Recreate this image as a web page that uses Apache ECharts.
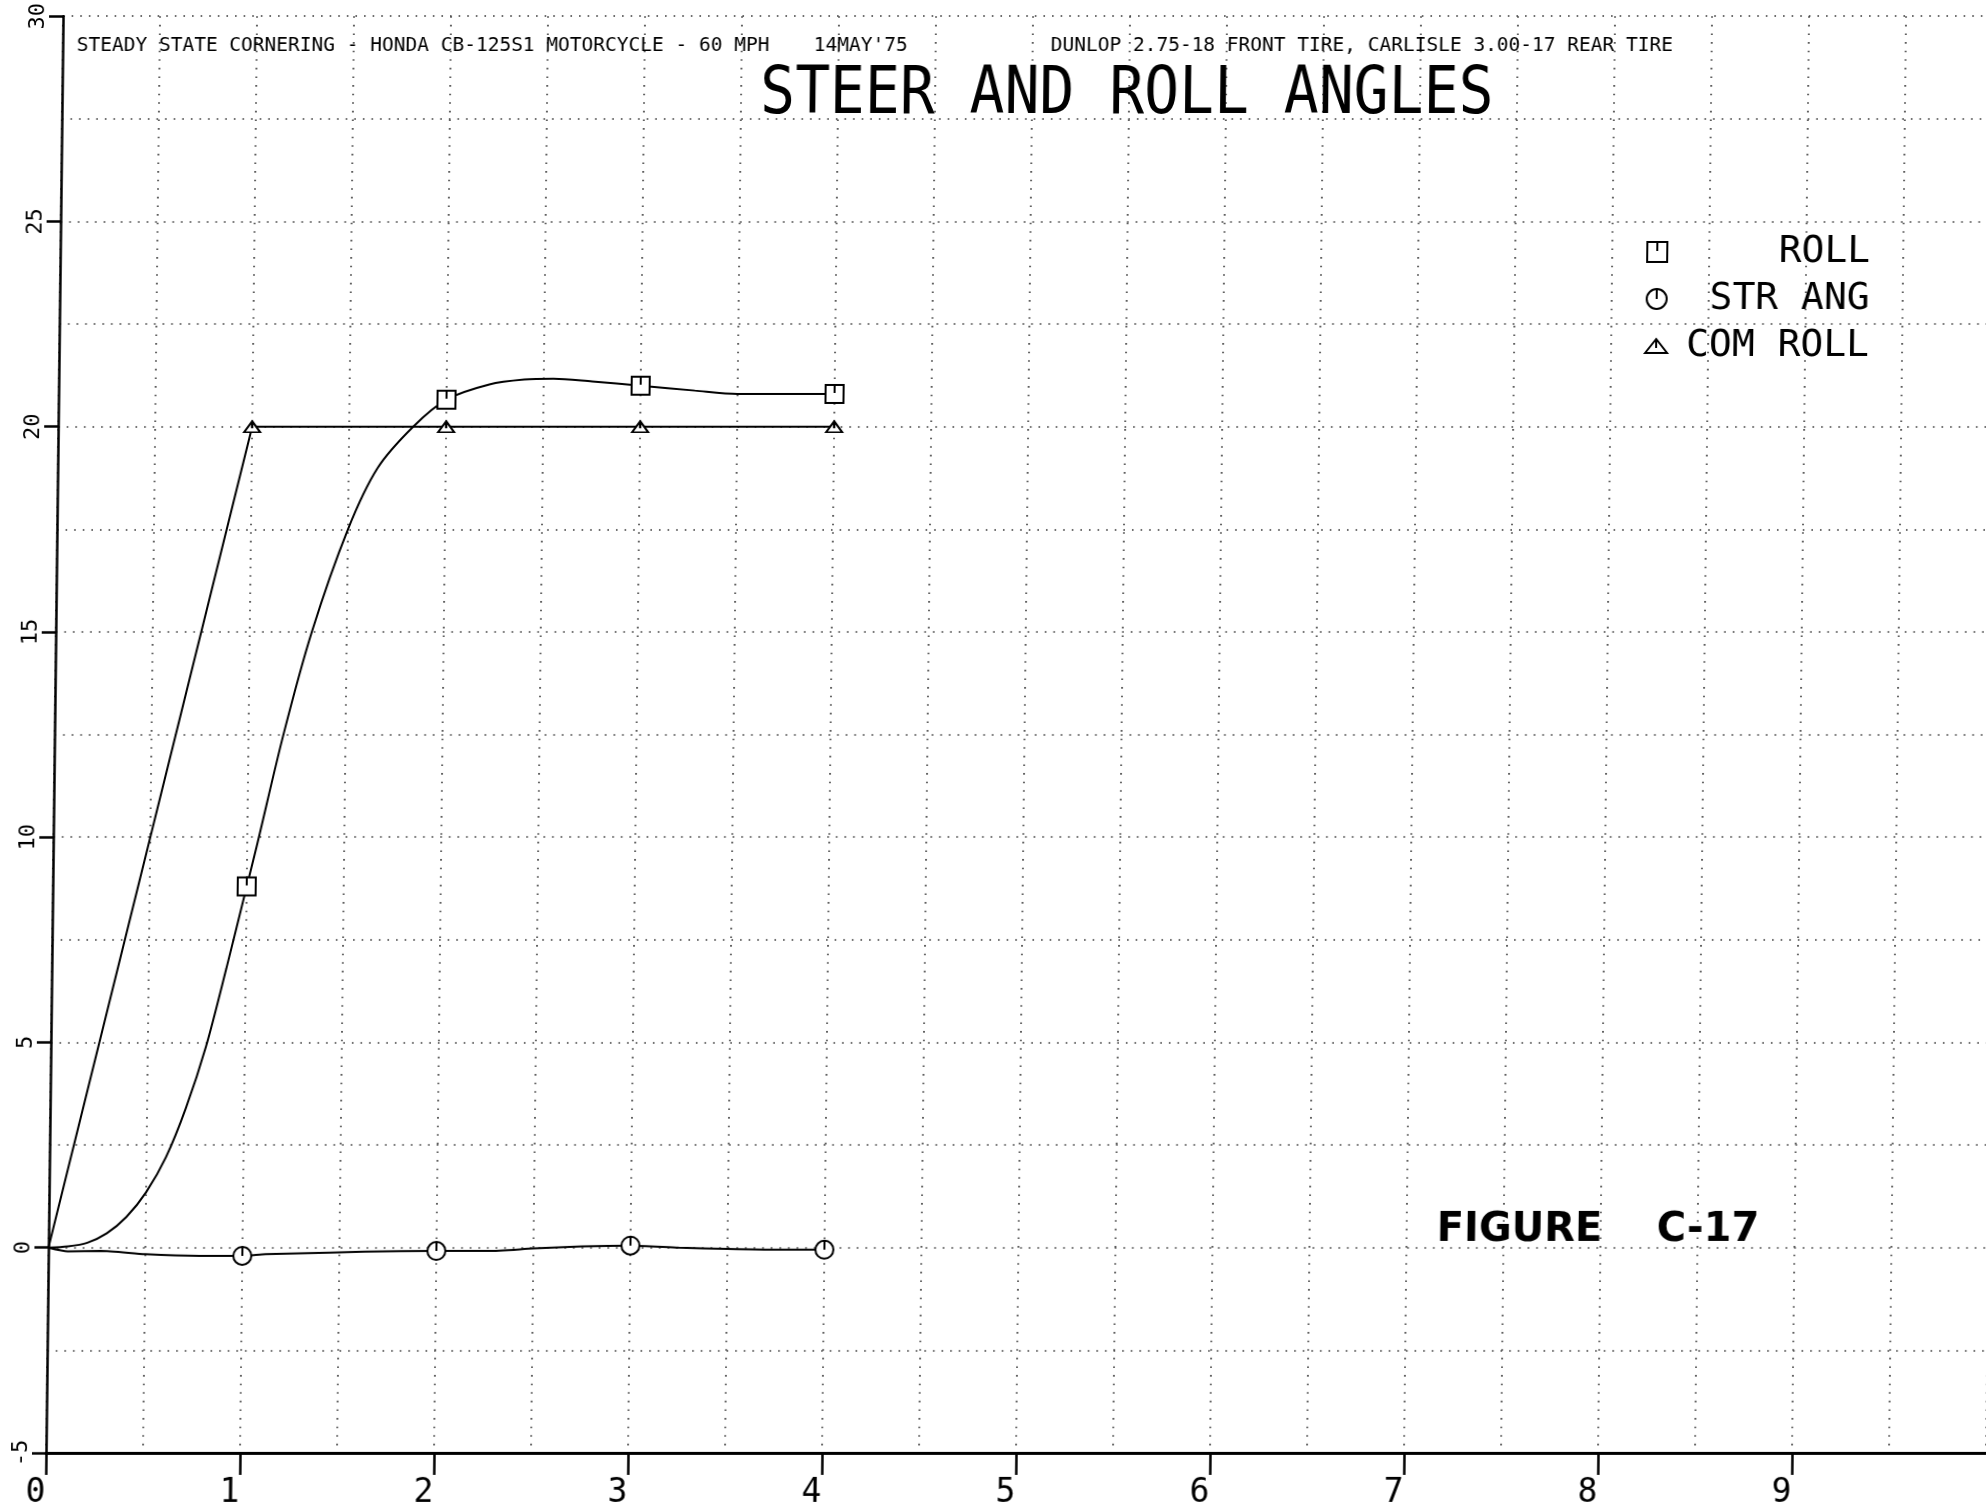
<!DOCTYPE html>
<html>
<head>
<meta charset="utf-8">
<script src="https://cdn.jsdelivr.net/npm/echarts@6/dist/echarts.min.js"></script>
<style>
  html, body { margin: 0; padding: 0; background: #fff; }
  #chart { width: 1986px; height: 1510px; transform: skewX(-0.68deg); transform-origin: 0 1453px; }
</style>
</head>
<body>
<div id="chart"></div>
<script>
// ---- data ----
const markerTimes = [1, 2, 3, 4];

const rollX = [0, 0.1, 0.2, 0.3, 0.4, 0.5, 0.6, 0.7, 0.8, 0.9, 1.0, 1.05, 1.18, 1.32, 1.5, 1.65, 1.83, 2.0, 2.22, 2.4, 2.55, 2.75, 3.0, 3.28, 3.5, 3.75, 4.0];
const rollY = [0, 0.03, 0.12, 0.35, 0.75, 1.35, 2.2, 3.4, 4.9, 6.8, 8.8, 9.8, 12.5, 15.0, 17.5, 19.0, 20.0, 20.66, 21.03, 21.15, 21.17, 21.1, 21.0, 20.88, 20.8, 20.8, 20.8];

const strX = [0, 0.1, 0.27, 0.5, 0.78, 1.0, 1.12, 1.45, 1.63, 2.0, 2.27, 2.5, 2.75, 3.0, 3.25, 3.5, 3.75, 4.0];
const strY = [0, -0.09, -0.08, -0.16, -0.2, -0.2, -0.16, -0.12, -0.1, -0.08, -0.08, -0.02, 0.03, 0.05, 0.0, -0.03, -0.05, -0.05];

const comX = [0, 1, 2, 3, 4];
const comY = [0, 20, 20, 20, 20];

const seriesNames = ['ROLL', 'STR ANG', 'COM ROLL'];
const xTicks = [0, 1, 2, 3, 4, 5, 6, 7, 8, 9];
const yTicks = [-5, 0, 5, 10, 15, 20, 25, 30];

const subtitleLeft = 'STEADY STATE CORNERING - HONDA CB-125S1 MOTORCYCLE - 60 MPH';
const subtitleDate = "14MAY'75";
const subtitleRight = 'DUNLOP 2.75-18 FRONT TIRE, CARLISLE 3.00-17 REAR TIRE';
const mainTitle = 'STEER AND ROLL ANGLES';
const figureLabel = ['FIGURE', 'C-17'];

// ---- styling ----
const MONO = '"DejaVu Sans Mono", "Liberation Mono", monospace';
const sqPath = 'path://M0 0H20V20H0Z M10 0V9';
const circPath = 'path://M0 10A10 10 0 1 1 20 10A10 10 0 1 1 0 10Z M10 0V10';
const triPath = 'path://M0 14L11 0L22 14Z M11 0V9';

const dotted = { color: '#3a3a3a', width: 1.6, type: [1.6, 7] };

function buildData(xs, ys, sym) {
  return xs.map((x, i) => ({
    value: [x, ys[i]],
    symbol: markerTimes.includes(x) ? sym : 'none'
  }));
}

const markerStyle = { color: '#fff', borderColor: '#000', borderWidth: 2 };
const lineStyle = { color: '#000', width: 2 };

const chart = echarts.init(document.getElementById('chart'), null, { renderer: 'canvas' });

const option = {
  backgroundColor: '#fff',
  animation: false,
  textStyle: { fontFamily: MONO, color: '#000' },
  grid: { left: 46, right: -17, top: 16, bottom: 57, containLabel: false },
  xAxis: {
    type: 'value',
    min: 0, max: 10, interval: 1,
    axisLine: { show: true, onZero: false, lineStyle: { color: '#000', width: 3 } },
    axisTick: { show: true, length: 22, lineStyle: { color: '#000', width: 2.5 } },
    axisLabel: {
      show: true, margin: 24, fontSize: 33, fontFamily: MONO, color: '#000',
      padding: [0, 20, 0, 0], showMaxLabel: false,
      formatter: v => (xTicks.includes(v) ? String(v) : '')
    },
    splitLine: { show: true, lineStyle: dotted },
    minorTick: { show: false, splitNumber: 2 },
    minorSplitLine: { show: true, lineStyle: dotted }
  },
  yAxis: {
    type: 'value',
    min: -5, max: 30, interval: 5,
    axisLine: { show: true, onZero: false, lineStyle: { color: '#000', width: 2.5 } },
    axisTick: { show: true, length: 14, lineStyle: { color: '#000', width: 2.5 } },
    axisLabel: {
      show: true, rotate: 90, margin: 14, fontSize: 22, fontFamily: MONO, color: '#000',
      formatter: v => (yTicks.includes(v) ? String(v) : '')
    },
    splitLine: { show: true, lineStyle: dotted },
    minorTick: { show: false, splitNumber: 2 },
    minorSplitLine: { show: true, lineStyle: dotted }
  },
  legend: {
    show: true,
    orient: 'vertical',
    left: 1626, top: 228,
    itemWidth: 22, itemHeight: 20, itemGap: 9,
    selectedMode: false,
    itemStyle: { color: '#fff', borderColor: '#000', borderWidth: 2 },
    data: [
      { name: seriesNames[0], icon: sqPath },
      { name: seriesNames[1], icon: circPath },
      { name: seriesNames[2], icon: triPath }
    ],
    formatter: name => '{t|' + name + '}',
    textStyle: {
      fontFamily: MONO, fontSize: 38, color: '#000',
      rich: { t: { width: 197, align: 'right', fontFamily: MONO, fontSize: 38, lineHeight: 40, color: '#000' } }
    }
  },
  series: [
    {
      name: seriesNames[0], type: 'line',
      data: buildData(rollX, rollY, sqPath),
      smooth: 0.3, showAllSymbol: true,
      symbolSize: 18, symbolKeepAspect: true,
      itemStyle: markerStyle, lineStyle: lineStyle, z: 3
    },
    {
      name: seriesNames[1], type: 'line',
      data: buildData(strX, strY, circPath),
      smooth: 0.2, showAllSymbol: true,
      symbolSize: 18, symbolKeepAspect: true,
      itemStyle: markerStyle, lineStyle: lineStyle, z: 3
    },
    {
      name: seriesNames[2], type: 'line',
      data: buildData(comX, comY, triPath),
      smooth: false, showAllSymbol: true,
      symbolSize: [16, 11], symbolKeepAspect: false,
      itemStyle: markerStyle, lineStyle: lineStyle, z: 3
    }
  ],
  graphic: [
    {
      type: 'text', x: 60, y: 46, z: 10,
      style: { text: subtitleLeft, font: '19.5px ' + MONO, fill: '#000',
               align: 'left', verticalAlign: 'middle', textAlign: 'left', textVerticalAlign: 'middle' }
    },
    {
      type: 'text', x: 797, y: 46, z: 10,
      style: { text: subtitleDate, font: '19.5px ' + MONO, fill: '#000',
               align: 'left', verticalAlign: 'middle', textAlign: 'left', textVerticalAlign: 'middle' }
    },
    {
      type: 'text', x: 1034, y: 46, z: 10,
      style: { text: subtitleRight, font: '19.5px ' + MONO, fill: '#000',
               align: 'left', verticalAlign: 'middle', textAlign: 'left', textVerticalAlign: 'middle' }
    },
    {
      type: 'text', x: 744, y: 96, scaleY: 1.13, z: 10,
      style: { text: mainTitle, font: '58px ' + MONO, fill: '#000',
               align: 'left', verticalAlign: 'middle', textAlign: 'left', textVerticalAlign: 'middle' }
    },
    {
      type: 'text', x: 1434, y: 1231, z: 10,
      style: { text: figureLabel[0], font: 'bold 40px "DejaVu Sans", sans-serif', fill: '#000',
               align: 'left', verticalAlign: 'middle', textAlign: 'left', textVerticalAlign: 'middle' }
    },
    {
      type: 'text', x: 1654, y: 1231, z: 10,
      style: { text: figureLabel[1], font: 'bold 40px "DejaVu Sans", sans-serif', fill: '#000',
               align: 'left', verticalAlign: 'middle', textAlign: 'left', textVerticalAlign: 'middle' }
    }
  ]
};

chart.setOption(option);
</script>
</body>
</html>
